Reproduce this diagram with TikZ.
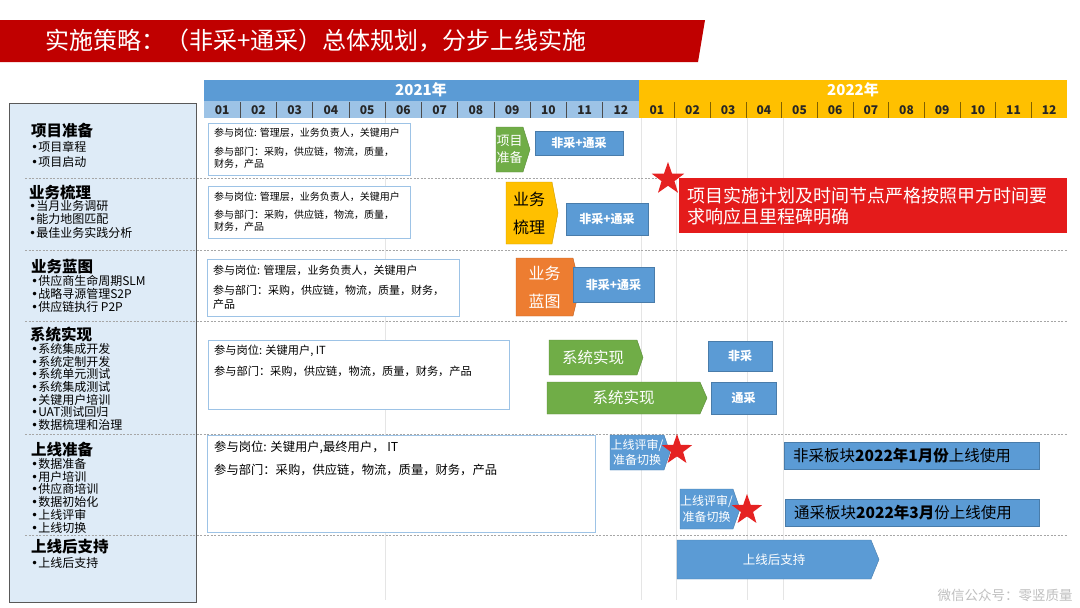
\documentclass[tikz,border=0pt]{standalone}
\usepackage{fontspec}
\setmainfont{Noto Sans CJK SC}
\newfontfamily\dotfont{DejaVu Sans}
\usetikzlibrary{shapes.geometric}

\definecolor{titlered}{HTML}{C00000}
\definecolor{barblue}{HTML}{5B9BD5}
\definecolor{monthblue}{HTML}{9DC3E6}
\definecolor{gold}{HTML}{FFC000}
\definecolor{leafgreen}{HTML}{70AD47}
\definecolor{carrot}{HTML}{ED7D31}
\definecolor{bannerred}{HTML}{E41B1B}
\definecolor{starred}{HTML}{E52222}
\definecolor{panelblue}{HTML}{DEEBF7}
\definecolor{boxline}{HTML}{9DC3E6}
\definecolor{sepgray}{HTML}{A6A6A6}

\newcommand{\pxfont}[2]{\fontsize{#1}{#2}\selectfont}
\newcommand{\bul}{{\dotfont •}}
% name, fill, x1, y1, x2, y2, tip, node options, text
\newcommand{\chev}[9]{%
  \filldraw[fill=#2,draw=#2!80!black,line width=0.4pt] (#3,#4) -- ({#5-#7},#4) -- (#5,{(#4+#6)/2}) -- ({#5-#7},#6) -- (#3,#6) -- cycle;
  \node[align=center,#8] (#1) at ({(#3+#5-#7)/2},{(#4+#6)/2}) {#9};}

\begin{document}
\begin{tikzpicture}[x=1pt,y=-1pt,
  every node/.style={inner sep=0pt},
  sectitle/.style={anchor=west,font=\pxfont{15.5}{17}\bfseries},
  bullets/.style={anchor=north west,align=left,font=\pxfont{12}{#1}},
  infoline/.style={anchor=west,font=\pxfont{#1}{#1}},
  infobox/.style={draw=boxline,fill=white,line width=0.8pt},
  planbox/.style={fill=barblue,draw=barblue!80!black,line width=0.4pt,text=white,font=\pxfont{12}{12}\bfseries},
  goalbox/.style={fill=barblue,draw=barblue!80!black,line width=0.4pt,anchor=west,minimum height=27,inner xsep=9,font=\pxfont{15.5}{16}},
  redstar/.style={star,star points=5,star point ratio=2.5,fill=starred,minimum size=32},
  monthlabel/.style={font=\pxfont{12}{12}\bfseries,text=black!85},
  yearlabel/.style={font=\pxfont{15}{15}\bfseries,text=white}]
\useasboundingbox (0,0) rectangle (1080,608);

% title
\fill[titlered] (0,20) -- (705,20) -- (698,62) -- (0,62) -- cycle;
\node[anchor=west,text=white,font=\pxfont{24}{24}] (title) at (45,41) {实施策略：（非采+通采）总体规划，分步上线实施};

% time line
\fill[barblue] (204,80) rectangle (639,101);
\fill[monthblue] (204,101) rectangle (639,118);
\fill[gold] (639,80) rectangle (1067,118);
\node[yearlabel] (y2021) at (421,90) {2021年};
\node[yearlabel] (y2022) at (853,90) {2022年};
\foreach \m [count=\i] in {01,02,03,04,05,06,07,08,09,10,11,12}{
  \node[monthlabel] (m21-\i) at ({204+(\i-0.5)*36.25},110) {\m};
  \node[monthlabel] (m22-\i) at ({639+(\i-0.5)*35.67},110) {\m};
}
\foreach \i in {1,...,11}{
  \draw[black!70,line width=0.8pt] ({204+\i*36.25},102) -- ++(0,16);
  \draw[gold!50!black,line width=0.8pt] ({639+\i*35.67},102) -- ++(0,16);
}

% grid and rows
\foreach \x in {385,641,676,747,783} \draw[black!10] (\x,118) -- (\x,600);
\draw[draw=black!65,fill=panelblue,line width=0.8pt] (9,103) rectangle (196,602);
\foreach \y in {178,250,321,434,535}
  \draw[sepgray,dash pattern=on 2pt off 1.5pt] (25,\y) -- (1068,\y);

% left panel
\node[sectitle] (sec1) at (31,131) {项目准备};
\node[bullets=15] (list1) at (31,141) {\bul 项目章程\\\bul 项目启动};
\node[sectitle] (sec2) at (29,193) {业务梳理};
\node[bullets=13.5] (list2) at (29,200) {\bul 当月业务调研\\\bul 能力地图匹配\\\bul 最佳业务实践分析};
\node[sectitle] (sec3) at (31,267) {业务蓝图};
\node[bullets=13] (list3) at (31,275) {\bul 供应商生命周期SLM\\\bul 战略寻源管理S2P\\\bul 供应链执行 P2P};
\node[sectitle] (sec4) at (30,335) {系统实现};
\node[bullets=12.7] (list4) at (31,343) {\bul 系统集成开发\\\bul 系统定制开发\\\bul 系统单元测试\\\bul 系统集成测试\\\bul 关键用户培训\\\bul UAT测试回归\\\bul 数据梳理和治理};
\node[sectitle] (sec5) at (31,450) {上线准备};
\node[bullets=12.8] (list5) at (31,458) {\bul 数据准备\\\bul 用户培训\\\bul 供应商培训\\\bul 数据初始化\\\bul 上线评审\\\bul 上线切换};
\node[sectitle] (sec6) at (31,547) {上线后支持};
\node[bullets=13] (list6) at (31,557) {\bul 上线后支持};

% who takes part
\draw[infobox] (208,123) rectangle (410,175);
\node[infoline=10] (role1) at (214,133) {参与岗位: 管理层，业务负责人，关键用户};
\node[infoline=10] (dept1) at (214,152) {参与部门：采购，供应链，物流，质量，};
\node[infoline=10] (dept1b) at (214,164) {财务，产品};
\draw[infobox] (208,186) rectangle (410,238);
\node[infoline=10] (role2) at (214,197) {参与岗位: 管理层，业务负责人，关键用户};
\node[infoline=10] (dept2) at (214,215) {参与部门：采购，供应链，物流，质量，};
\node[infoline=10] (dept2b) at (214,227) {财务，产品};
\draw[infobox] (207,259) rectangle (459,316);
\node[infoline=11] (role3) at (213,270) {参与岗位: 管理层，业务负责人，关键用户};
\node[infoline=11] (dept3) at (213,290) {参与部门：采购，供应链，物流，质量，财务，};
\node[infoline=11] (dept3b) at (213,304) {产品};
\draw[infobox] (208,340) rectangle (509,409);
\node[infoline=11.2] (role4) at (214,351) {参与岗位: 关键用户, IT};
\node[infoline=11.2] (dept4) at (214,371) {参与部门：采购，供应链，物流，质量，财务，产品};
\draw[infobox] (207,435) rectangle (595,532);
\node[infoline=12.3] (role5) at (214,447) {参与岗位: 关键用户,最终用户， IT};
\node[infoline=12.3] (dept5) at (214,470) {参与部门：采购，供应链，物流，质量，财务，产品};

% phases
\chev{ph1}{leafgreen}{496}{127}{530}{172}{7}{text=white,font=\pxfont{13}{17}}{项目\\准备}
\chev{ph2}{gold}{506}{182}{558}{244}{6}{text=black,font=\pxfont{16}{28}}{业务\\梳理}
\chev{ph3}{carrot}{516}{258}{580}{316}{7}{text=white,font=\pxfont{16}{28}}{业务\\蓝图}
\chev{ph4}{leafgreen}{549}{340}{643}{375}{6}{text=white,font=\pxfont{15.5}{16}}{系统实现}
\chev{ph5}{leafgreen}{547}{382}{707}{414}{7}{text=white,font=\pxfont{15.5}{16}}{系统实现}
\chev{ph6}{barblue}{610}{435}{670}{470}{6}{text=white,font=\pxfont{12}{15}}{上线评审/\\准备切换}
\chev{ph7}{barblue}{680}{489}{740}{529}{7}{text=white,font=\pxfont{12}{16}}{上线评审/\\准备切换}
\chev{ph8}{barblue}{677}{540}{879}{579}{8}{text=white,font=\pxfont{12.5}{13}}{上线后支持}

\node[planbox,minimum width=88,minimum height=24] (plan1) at (579,143) {非采+通采};
\node[planbox,minimum width=82,minimum height=32] (plan2) at (607,219) {非采+通采};
\node[planbox,minimum width=81,minimum height=35] (plan3) at (613.5,284.5) {非采+通采};
\node[planbox,minimum width=64,minimum height=30] (plan4) at (740,356) {非采};
\node[planbox,minimum width=65,minimum height=32] (plan5) at (743.5,398) {通采};

\node[goalbox,text width=237,align=left] (goal1) at (784,455.5) {非采板块\textbf{2022年1月份}上线使用};
\node[goalbox,text width=236,align=left] (goal2) at (785,512.5) {通采板块\textbf{2022年3月}份上线使用};

% milestones
\node[fill=bannerred,text=white,anchor=north west,minimum height=55,text width=372,inner xsep=8,align=left,font=\pxfont{18}{21}] (banner) at (679,178) {项目实施计划及时间节点严格按照甲方时间要\\求响应且里程碑明确};
\node[redstar,minimum size=34] (star1) at (668,179) {};
\node[redstar] (star2) at (677,450) {};
\node[redstar] (star3) at (747,510) {};

\node[text=black!25,font=\pxfont{13.5}{14}] (mark) at (1005,595) {微信公众号：零竖质量};
\end{tikzpicture}
\end{document}
